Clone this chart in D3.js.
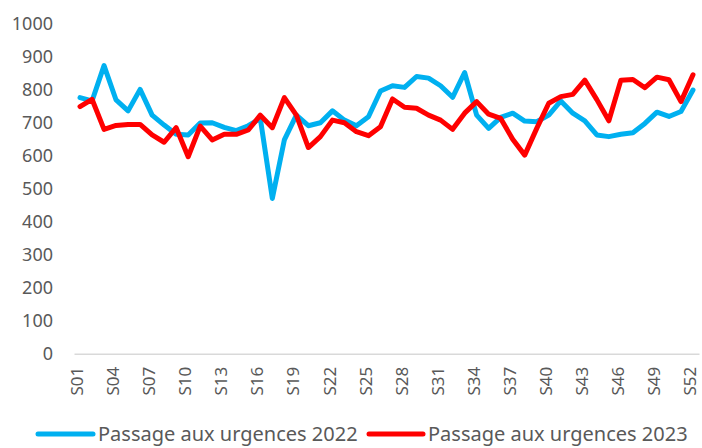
<!DOCTYPE html>
<html><head><meta charset="utf-8">
<script src="https://cdn.jsdelivr.net/npm/d3@7"></script>
<style>html,body{margin:0;padding:0;background:#fff;overflow:hidden}</style>
</head><body>
<svg id="chart" width="702" height="448"></svg>
<script>
const weeks = d3.range(1, 53).map(i => "S" + String(i).padStart(2, "0"));
const values2022 = [775,765,872,768,735,800,722,692,664,662,698,699,685,675,690,712,470,647,722,690,699,735,707,690,717,795,811,806,839,834,811,776,851,722,682,715,728,704,702,722,765,728,705,662,657,664,669,697,731,718,733,798];
const values2023 = [748,770,679,691,694,694,662,640,684,596,689,647,664,664,677,722,684,775,722,624,657,707,699,672,660,687,771,746,743,722,707,679,728,763,725,712,649,601,682,758,778,785,828,769,705,828,830,805,837,829,763,844];
const yTicks = [0,100,200,300,400,500,600,700,800,900,1000];
const xTickLabels = weeks.filter((d, i) => i % 3 === 0);
const seriesNames = ["Passage aux urgences 2022", "Passage aux urgences 2023"];
const seriesColors = ["#00B0F0", "#FF0000"];

const svg = d3.select("#chart");
const font = "'Noto Sans', 'Open Sans', sans-serif";
const x = d3.scaleBand().domain(weeks).range([74, 699]);
const y = d3.scaleLinear().domain([0, 1000]).range([353.7, 23.3]);

// y axis labels
const yAxis = d3.axisLeft(y).tickValues(yTicks).tickFormat(d3.format("d")).tickSize(0).tickPadding(0);
const gy = svg.append("g").attr("transform", "translate(53,0)").call(yAxis);
gy.select(".domain").remove();
gy.selectAll("text").attr("font-family", font).attr("font-size", 18).attr("fill", "#595959");

// x axis
const xAxis = d3.axisBottom(x).tickValues(xTickLabels).tickSize(0).tickPadding(0);
const gx = svg.append("g").attr("transform", `translate(0,${y(0)})`).call(xAxis);
gx.select(".domain").attr("stroke", "#d9d9d9").attr("stroke-width", 1.5);
gx.selectAll("text")
  .attr("font-family", font).attr("font-size", 17).attr("fill", "#595959")
  .attr("transform", "rotate(-90)")
  .attr("text-anchor", "end")
  .attr("x", -13).attr("y", -2).attr("dy", "0.3em");

// lines
const line = d3.line().x((d, i) => x(weeks[i]) + x.bandwidth() / 2).y(d => y(d));
[values2022, values2023].forEach((vals, k) => {
  svg.append("path").datum(vals)
    .attr("fill", "none").attr("stroke", seriesColors[k])
    .attr("stroke-width", 5).attr("stroke-linejoin", "round").attr("stroke-linecap", "round")
    .attr("d", line);
});

// legend
const legendItems = [{x0: 38, x1: 93, tx: 98}, {x0: 369, x1: 423, tx: 428}];
const ly = 434;
legendItems.forEach((it, k) => {
  svg.append("line").attr("x1", it.x0).attr("x2", it.x1).attr("y1", ly).attr("y2", ly)
    .attr("stroke", seriesColors[k]).attr("stroke-width", 5).attr("stroke-linecap", "round");
  svg.append("text").attr("x", it.tx).attr("y", ly).attr("dy", "0.35em")
    .attr("font-family", font).attr("font-size", 20).attr("fill", "#595959")
    .text(seriesNames[k]);
});
</script>
</body></html>
